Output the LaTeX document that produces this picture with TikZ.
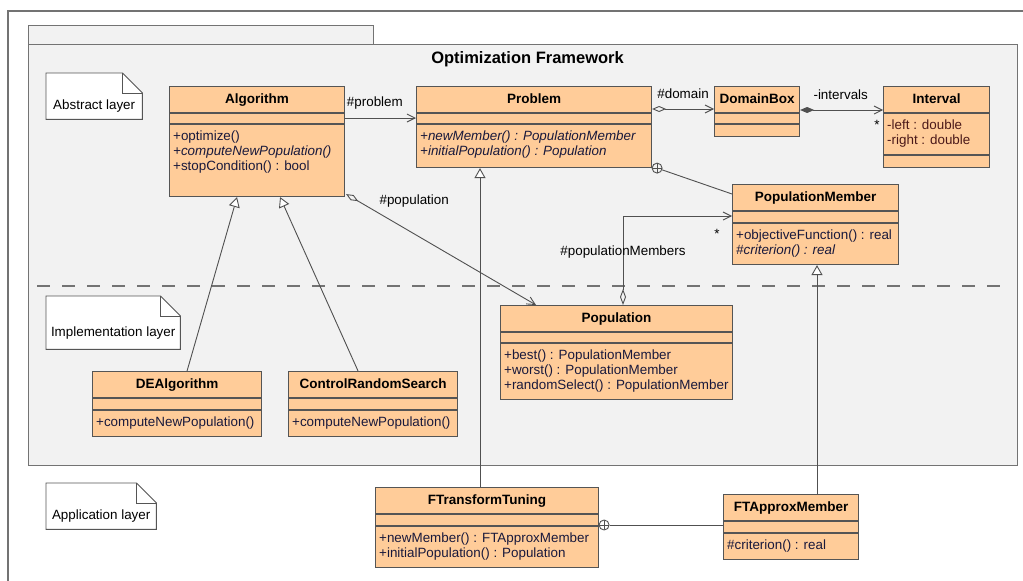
\documentclass[tikz,border=0pt]{standalone}
\usepackage{fontspec}
\setmainfont{Liberation Sans}
\usetikzlibrary{arrows.meta, positioning, calc}

\definecolor{classfill}{RGB}{255,204,153}
\definecolor{classdraw}{RGB}{85,85,85}
\definecolor{pkgfill}{RGB}{242,242,242}
\definecolor{pkgdraw}{RGB}{115,115,115}
\definecolor{optext}{RGB}{25,25,60}
\definecolor{attrtext}{RGB}{75,25,25}
\definecolor{linkcol}{RGB}{80,80,80}

% class box: name, x, y, width, height, title, attribute height, attributes, operations
\newcommand{\umlclass}[9]{%
  \node[classbox, minimum width=#4pt, minimum height=#5pt] (#1) at (#2,#3) {};
  \node[classtitle] (#1-title) at ($(#1.north)+(0,17.5)$) {#6};
  \draw[classsep] ($(#1.north west)+(0,27)$) -- ($(#1.north east)+(0,27)$);
  \draw[classsep] ($(#1.north west)+(0,27+#7)$) -- ($(#1.north east)+(0,27+#7)$);
  \node[members, text=attrtext] (#1-attrs) at ($(#1.north west)+(0,27)$) {#8};
  \node[members] (#1-ops) at ($(#1.north west)+(0,27+#7)$) {#9};
}

% note with folded corner: name, x, y, width, height, text
\newcommand{\umlnote}[6]{%
  \node[minimum width=#4pt, minimum height=#5pt, anchor=north west, inner sep=0] (#1) at (#2,#3) {};
  \draw[notebox] (#1.north west) -- ($(#1.north east)+(-20,0)$) -- ($(#1.north east)+(0,20)$)
    -- (#1.south east) -- (#1.south west) -- cycle;
  \draw[notebox, fill=none] ($(#1.north east)+(-20,0)$) |- ($(#1.north east)+(0,20)$);
  \node[notetext] (#1-text) at ($(#1.center)+(0,10)$) {#6};
}

\begin{document}
\begin{tikzpicture}[
    x=1pt, y=-1pt,
    >={Straight Barb[length=8pt, width=8pt]},
    classbox/.style={
        rectangle, draw=classdraw, fill=classfill, line width=1.1pt,
        anchor=north west, inner sep=0
    },
    classtitle/.style={anchor=base, inner sep=0, font=\fontsize{13.5}{15}\selectfont\bfseries},
    classsep/.style={draw=classdraw, line width=1.1pt},
    members/.style={
        anchor=north west, align=left, inner xsep=4pt, inner ysep=7pt,
        text=optext, font=\fontsize{13.4}{15}\selectfont
    },
    notebox/.style={draw=classdraw, fill=white, line width=0.9pt},
    notetext/.style={inner sep=0, font=\fontsize{13.4}{15}\selectfont},
    link/.style={draw=linkcol, line width=0.9pt},
    nav/.style={link, ->},
    aggr/.style={link, {Diamond[open, length=14pt, width=6pt]}->},
    compo/.style={link, {Diamond[length=14pt, width=6pt]}->},
    gen/.style={link, -{Triangle[length=10pt, width=11pt, fill=white]}},
    nest/.style={
        circle, draw=linkcol, line width=0.9pt, minimum size=10pt, inner sep=0,
        path picture={\draw[linkcol, line width=0.9pt]
            (path picture bounding box.north) -- (path picture bounding box.south)
            (path picture bounding box.west) -- (path picture bounding box.east);}
    },
    lbl/.style={inner sep=0, font=\fontsize{13.4}{15}\selectfont}
]
\useasboundingbox (0,0) rectangle (1023,581);

% diagram frame and package
\draw[pkgdraw, line width=1.1pt] (8,581) -- (8,11) -- (1023,11);
\draw[draw=pkgdraw, fill=pkgfill, line width=1pt] (28,25) rectangle (373,44);
\node[draw=pkgdraw, fill=pkgfill, line width=1.1pt, anchor=north west, inner sep=0,
      minimum width=989pt, minimum height=421pt] (framework) at (28,44) {};
\node[anchor=base, inner sep=0, font=\fontsize{16.5}{18}\selectfont\bfseries] (fwtitle)
      at ($(framework.north)+(4.5,19.5)$) {Optimization Framework};
\draw[pkgdraw, line width=1.3pt, dash pattern=on 13pt off 12pt] (37,286) -- (1010,286);

% layer notes
\umlnote{abstractnote}{46}{73}{96}{46}{Abstract layer}
\umlnote{implnote}{46}{296}{134}{53}{Implementation layer}
\umlnote{appnote}{46}{483}{110}{46}{Application layer}

% classes
\umlclass{algo}{169}{86}{175}{110}{Algorithm}{11}{}{+optimize()\\\textit{+computeNewPopulation()}\\+stopCondition() : bool}
\umlclass{problem}{416}{86}{235}{81}{Problem}{11}{}{\textit{+newMember() : PopulationMember}\\\textit{+initialPopulation() : Population}}
\umlclass{domainbox}{714}{86}{85}{50}{DomainBox}{11}{}{}
\umlclass{interval}{883}{86}{106}{81}{Interval}{42}{-left : double\\-right : double}{}
\umlclass{popmember}{732}{184}{166}{80}{PopulationMember}{12}{}{+objectiveFunction() : real\\\textit{\#criterion() : real}}
\umlclass{population}{500}{305}{232}{94}{Population}{11}{}{+best() : PopulationMember\\+worst() : PopulationMember\\+randomSelect() : PopulationMember}
\umlclass{dealgo}{92}{371}{169}{65}{DEAlgorithm}{12}{}{+computeNewPopulation()}
\umlclass{crs}{288}{371}{169}{65}{ControlRandomSearch}{12}{}{+computeNewPopulation()}
\umlclass{fttuning}{375}{487}{223}{80}{FTransformTuning}{12}{}{+newMember() : FTApproxMember\\+initialPopulation() : Population}
\umlclass{ftapprox}{723}{494}{135}{65}{FTApproxMember}{12}{}{\#criterion() : real}

% associations
\draw[nav] ($(algo.north east)+(0,32)$) -- ($(problem.north west)+(0,32)$)
    node[lbl, pos=0.42, above=8pt] {\#problem};
\draw[aggr] ($(problem.north east)+(0,23)$) -- ($(domainbox.north west)+(0,23)$)
    node[lbl, pos=0.5, above=10pt] {\#domain};
\draw[compo] ($(domainbox.north east)+(0,24)$) -- ($(interval.north west)+(0,24)$)
    node[lbl, pos=0.49, above=10pt] {-intervals}
    node[lbl, pos=1, xshift=-6pt, yshift=-15pt] {*};
\draw[aggr] ($(algo.south east)+(1,-3)$) -- ($(population.north west)+(36,0)$)
    node[lbl, pos=0, anchor=west, xshift=33pt, yshift=-7.4pt] {\#population};
\draw[link, {Diamond[open, length=16pt, width=6pt]}->] ($(population.north west)+(123,0)$) |- ($(popmember.north west)+(0,32)$)
    node[lbl, pos=0.295] {\#populationMembers}
    node[lbl, pos=1, xshift=-15pt, yshift=-18pt] {*};

% generalizations
\draw[gen] ($(dealgo.north)+(10,0)$) -- ($(algo.south)+(-20,0)$);
\draw[gen] ($(crs.north)+(-15,0)$) -- ($(algo.south)+(23,0)$);
\draw[gen] ($(fttuning.north west)+(105,0)$) -- ($(problem.south west)+(64,0)$);
\draw[gen] ($(ftapprox.north west)+(94,0)$) -- ($(popmember.south west)+(85,0)$);

% nesting
\node[nest] (nestpm) at ($(problem.south east)+(5,0)$) {};
\draw[link] (nestpm) -- ($(popmember.north west)+(0,10)$);
\node[nest] (nestfa) at ($(fttuning.north east)+(5,38)$) {};
\draw[link] (nestfa) -- (nestfa -| ftapprox.west);

\end{tikzpicture}
\end{document}
